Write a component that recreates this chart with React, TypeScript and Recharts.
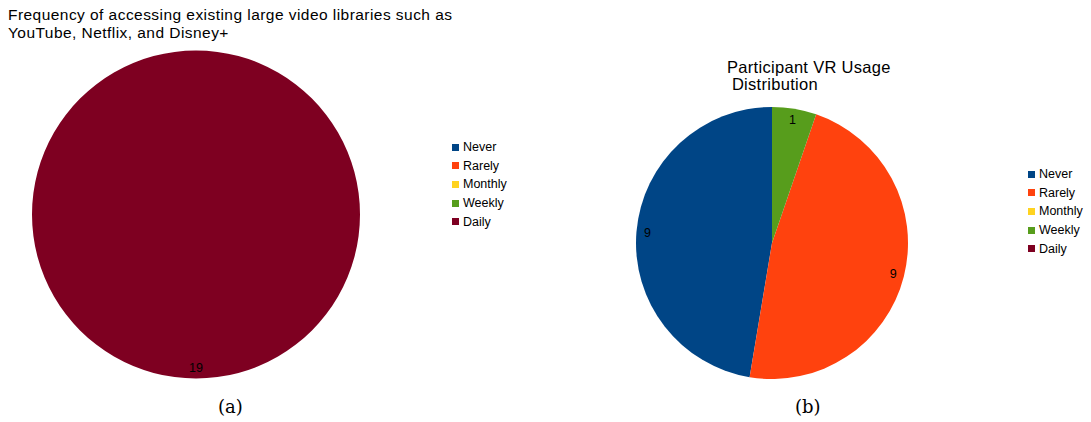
import React from "react";
import { PieChart, Pie, Cell, Legend } from "recharts";

const categories = ["Never", "Rarely", "Monthly", "Weekly", "Daily"];
const colors = ["#004586", "#ff420e", "#ffd320", "#579d1c", "#7e0021"];
const videoLibraryValues = [0, 0, 0, 0, 19];
const vrUsageValues = [9, 9, 0, 1, 0];

const titleA = ["Frequency of accessing existing large video libraries such as", "YouTube, Netflix, and Disney+"];
const titleB = ["Participant VR Usage", " Distribution"];
const captions = ["(a)", "(b)"];

const sans = "'Liberation Sans', Arial, sans-serif";
const RADIAN = Math.PI / 180;

const toData = (values: number[]) => categories.map((name, i) => ({ name, value: values[i] }));

const renderLabel = (props: any) => {
  const { cx, cy, midAngle, outerRadius, value } = props;
  if (!value) return null;
  const r = outerRadius - 11;
  const x = cx + r * Math.cos(-midAngle * RADIAN);
  const y = cy + r * Math.sin(-midAngle * RADIAN);
  return (
    <text x={x} y={y} textAnchor="middle" dominantBaseline="central" fill="#000" fontSize={12.5} fontFamily={sans}>
      {value}
    </text>
  );
};

const LegendContent = () => (
  <div style={{ fontFamily: sans, fontSize: 12.5, color: "#000" }}>
    {categories.map((c, i) => (
      <div key={c} style={{ display: "flex", alignItems: "center", height: 18.6 }}>
        <span style={{ display: "inline-block", width: 7, height: 7, background: colors[i], marginRight: 4 }} />
        <span>{c}</span>
      </div>
    ))}
  </div>
);

const abs = (left: number, top: number, extra: React.CSSProperties = {}): React.CSSProperties => ({
  position: "absolute",
  left,
  top,
  whiteSpace: "pre",
  ...extra,
});

export default function App() {
  return (
    <div style={{ position: "absolute", left: 0, top: 0, width: 1091, height: 422, background: "#fff", overflow: "hidden" }}>
      <div style={abs(0, 0)}>
        <PieChart width={545} height={422} margin={{ top: 0, right: 0, bottom: 0, left: 0 }}>
          <Pie
            data={toData(videoLibraryValues)}
            dataKey="value"
            nameKey="name"
            cx={196}
            cy={214.5}
            outerRadius={164}
            startAngle={90}
            endAngle={450}
            stroke="none"
            label={renderLabel}
            labelLine={false}
            isAnimationActive={false}
          >
            {categories.map((c, i) => (
              <Cell key={c} fill={colors[i]} />
            ))}
          </Pie>
          <Legend content={<LegendContent />} wrapperStyle={{ position: "absolute", left: 452, top: 138, width: 80 }} />
        </PieChart>
      </div>
      <div style={abs(546, 0)}>
        <PieChart width={545} height={422} margin={{ top: 0, right: 0, bottom: 0, left: 0 }}>
          <Pie
            data={toData(vrUsageValues)}
            dataKey="value"
            nameKey="name"
            cx={226}
            cy={243}
            outerRadius={136}
            startAngle={90}
            endAngle={450}
            stroke="none"
            label={renderLabel}
            labelLine={false}
            isAnimationActive={false}
          >
            {categories.map((c, i) => (
              <Cell key={c} fill={colors[i]} />
            ))}
          </Pie>
          <Legend content={<LegendContent />} wrapperStyle={{ position: "absolute", left: 482, top: 165, width: 80 }} />
        </PieChart>
      </div>
      <div style={abs(8, 6, { fontFamily: sans, fontSize: 15.5, letterSpacing: 0.45, lineHeight: "18px", color: "#000" })}>
        {titleA.map((t) => (
          <div key={t}>{t}</div>
        ))}
      </div>
      <div style={abs(727, 59, { fontFamily: sans, fontSize: 16.5, letterSpacing: 0.3, lineHeight: "17px", color: "#000" })}>
        {titleB.map((t) => (
          <div key={t}>{t}</div>
        ))}
      </div>
      <div style={abs(218, 396, { fontFamily: "'DejaVu Serif', serif", fontSize: 18, color: "#000" })}>{captions[0]}</div>
      <div style={abs(795, 396, { fontFamily: "'DejaVu Serif', serif", fontSize: 18, color: "#000" })}>{captions[1]}</div>
    </div>
  );
}
